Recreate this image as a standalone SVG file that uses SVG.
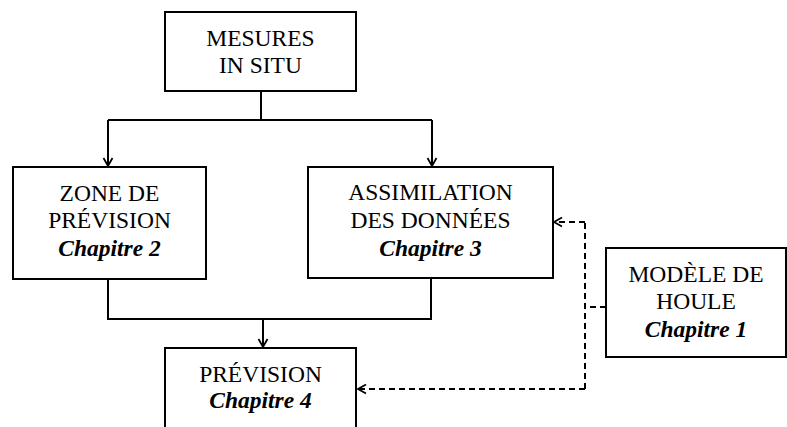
<svg xmlns="http://www.w3.org/2000/svg" width="787" height="427" viewBox="0 0 787 427">
<style>
.box{fill:#fff;stroke:#000;stroke-width:2}
text{font-family:'Liberation Serif','Times New Roman',Times,'DejaVu Serif',serif;font-size:23.5px;text-anchor:middle;fill:#000}
.b{font-weight:bold;font-style:italic}
.c{fill:none;stroke:#000;stroke-width:2}
.d{fill:none;stroke:#000;stroke-width:2;stroke-dasharray:6 4}
</style>
<defs>
<marker id="ah" markerWidth="12" markerHeight="12" refX="10" refY="6" orient="auto" markerUnits="userSpaceOnUse">
<path d="M2,1.5 L10,6 L2,10.5" fill="none" stroke="#000" stroke-width="1.8"/>
</marker>
</defs>
<g id="connectors">
<path class="c" d="M261,91 V120"/>
<path class="c" d="M108,120 H432"/>
<path class="c" d="M108,120 V166" marker-end="url(#ah)"/>
<path class="c" d="M432,120 V166" marker-end="url(#ah)"/>
<path class="c" d="M108,279 V319 H431 V278"/>
<path class="c" d="M263,319 V347" marker-end="url(#ah)"/>
<path class="d" d="M606,307 H585"/>
<path class="d" d="M585,389 V222"/>
<path class="d" d="M585,222 H554" marker-end="url(#ah)"/>
<path class="d" d="M585,389 H358" marker-end="url(#ah)"/>
</g>
<g id="mesures">
<rect class="box" x="165" y="12" width="191" height="79"/>
<text x="260.5" y="46">MESURES</text>
<text x="260.5" y="73">IN SITU</text>
</g>
<g id="zone">
<rect class="box" x="13" y="167" width="193" height="112"/>
<text x="109.5" y="201">ZONE DE</text>
<text x="109.5" y="228">PRÉVISION</text>
<text class="b" x="109.5" y="256">Chapitre 2</text>
</g>
<g id="assimilation">
<rect class="box" x="308" y="167" width="245" height="111"/>
<text x="430.5" y="200">ASSIMILATION</text>
<text x="430.5" y="228">DES DONNÉES</text>
<text class="b" x="430.5" y="256">Chapitre 3</text>
</g>
<g id="prevision">
<rect class="box" x="165" y="348" width="191" height="90"/>
<text x="260.5" y="382">PRÉVISION</text>
<text class="b" x="260.5" y="408">Chapitre 4</text>
</g>
<g id="modele">
<rect class="box" x="606" y="248" width="180" height="109"/>
<text x="696" y="282">MODÈLE DE</text>
<text x="696" y="309">HOULE</text>
<text class="b" x="696" y="337">Chapitre 1</text>
</g>
</svg>
